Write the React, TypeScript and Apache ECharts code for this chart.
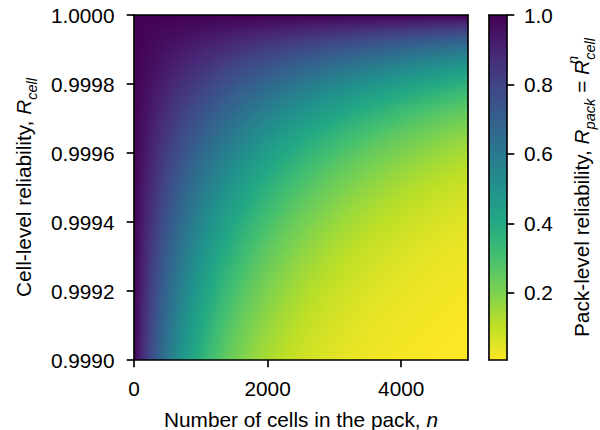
import React, { useEffect, useRef } from "react";
import * as echarts from "echarts";

// Axis ranges of the map (number of cells n, cell reliability R_cell)
const nRange = [0, 5000];
const rRange = [0.999, 1.0];
const nColumns = 334; // columns of the map (one per pixel of the plot width)
const rStops = 80; // colour samples along R in each column

const xTicks = [0, 2000, 4000];
const yTicks = [0.999, 0.9992, 0.9994, 0.9996, 0.9998, 1.0];
const cbTicks = [0.2, 0.4, 0.6, 0.8, 1.0];

// viridis (0 -> 1); the map uses it reversed
const viridis = [
  "#440154", "#482475", "#414487", "#355f8d", "#2a788e", "#21918c",
  "#22a884", "#44bf70", "#7ad151", "#bddf26", "#fde725",
];
const palette = viridis.slice().reverse(); // low value -> yellow, 1.0 -> purple

const FONT = "Liberation Sans";
const FS = 20.8;
const SFS = 14.6;
const LH = 32;

// R_pack = R_cell ^ n  (the quantity named on the colour bar)
// each column item: [n0, n1, rMin, rMax, v(R at stop 0 = rMin) ... v(R at stop K = rMax)]
const columns: number[][] = [];
for (let i = 0; i < nColumns; i++) {
  const n0 = nRange[0] + ((nRange[1] - nRange[0]) * i) / nColumns;
  const n1 = nRange[0] + ((nRange[1] - nRange[0]) * (i + 1)) / nColumns;
  const nc = (n0 + n1) / 2;
  const item = [n0, n1, rRange[0], rRange[1]];
  for (let k = 0; k <= rStops; k++) {
    const r = rRange[0] + ((rRange[1] - rRange[0]) * k) / rStops;
    item.push(Math.pow(r, nc));
  }
  columns.push(item);
}
const vMin = Math.pow(rRange[0], nRange[1]);
const vMax = 1;
const colorbarItems = [[0, 1, vMin, vMax]];

const hexToRgb = (h: string) => [1, 3, 5].map((o) => parseInt(h.slice(o, o + 2), 16));
const lerpColor = (t: number) => {
  const c = (echarts as any).color;
  if (c && typeof c.lerp === "function") return c.lerp(Math.min(1, Math.max(0, t)), palette);
  const x = Math.min(1, Math.max(0, t)) * (palette.length - 1);
  const a = Math.floor(x);
  const b = Math.min(palette.length - 1, a + 1);
  const f = x - a;
  const ca = hexToRgb(palette[a]);
  const cb = hexToRgb(palette[b]);
  return `rgb(${ca.map((v, idx) => Math.round(v + (cb[idx] - v) * f)).join(",")})`;
};
const colorOf = (v: number) => lerpColor((v - vMin) / (vMax - vMin));

const line = { color: "#000", width: 1.67 };
const labelStyle = { fontSize: FS, color: "#000", fontFamily: FONT };
const rich = {
  i: { fontSize: FS, fontStyle: "italic", fontFamily: FONT, color: "#000", lineHeight: LH },
  t: { fontSize: FS, fontFamily: FONT, color: "#000", lineHeight: LH },
  sub: { fontSize: SFS, fontStyle: "italic", fontFamily: FONT, color: "#000", verticalAlign: "bottom", lineHeight: LH - 14.4 },
  sup: { fontSize: SFS, fontStyle: "italic", fontFamily: FONT, color: "#000", verticalAlign: "top", lineHeight: LH - 26.8, width: 0 },
};
const nameStyle = { ...labelStyle, lineHeight: LH, rich };

const frameAxis = (gridIndex: number, position: string, min: number, max: number) => ({
  gridIndex,
  type: "value",
  position,
  min,
  max,
  z: 10,
  axisLine: { show: true, onZero: false, lineStyle: line },
  axisTick: { show: false },
  axisLabel: { show: false },
  splitLine: { show: false },
});

const renderColumn = (params: any, api: any) => {
  const p0 = api.coord([api.value(0), api.value(3)]);
  const p1 = api.coord([api.value(1), api.value(2)]);
  const x0 = Math.round(p0[0]);
  const x1 = Math.round(p1[0]);
  const y0 = Math.round(p0[1]);
  const y1 = Math.round(p1[1]);
  const colorStops = [];
  for (let k = rStops; k >= 0; k--) {
    // offset 0 = top (R = rMax), offset 1 = bottom (R = rMin)
    colorStops.push({ offset: 1 - k / rStops, color: colorOf(api.value(4 + k)) });
  }
  return {
    type: "rect",
    shape: { x: x0, y: y0, width: x1 - x0, height: y1 - y0 },
    style: { fill: { type: "linear", x: 0, y: 0, x2: 0, y2: 1, colorStops } },
  };
};

const renderColorbar = (params: any, api: any) => {
  const p0 = api.coord([api.value(0), api.value(3)]);
  const p1 = api.coord([api.value(1), api.value(2)]);
  const colorStops = palette
    .map((c, idx) => ({ offset: 1 - idx / (palette.length - 1), color: c }))
    .reverse();
  return {
    type: "rect",
    shape: { x: p0[0], y: p0[1], width: p1[0] - p0[0], height: p1[1] - p0[1] },
    style: { fill: { type: "linear", x: 0, y: 0, x2: 0, y2: 1, colorStops } },
  };
};

export default function App() {
  const ref = useRef<HTMLDivElement>(null);
  useEffect(() => {
    document.body.style.margin = "0";
    const chart = echarts.init(ref.current!, null, { renderer: "svg" });
    chart.setOption({
      animation: false,
      grid: [
        { left: 134, top: 15, width: 334, height: 345, outerBoundsMode: "none", containLabel: false },
        { left: 489, top: 15, width: 18, height: 345, outerBoundsMode: "none", containLabel: false },
      ],
      xAxis: [
        {
          gridIndex: 0,
          type: "value",
          position: "bottom",
          min: nRange[0],
          max: nRange[1],
          z: 10,
          axisLine: { show: true, onZero: false, lineStyle: line },
          axisTick: { show: true, length: 7.3, lineStyle: line, customValues: xTicks },
          axisLabel: { ...labelStyle, margin: 17.5, customValues: xTicks, formatter: (v: number) => String(v) },
          splitLine: { show: false },
          name: "Number of cells in the pack, {i|n}",
          nameLocation: "middle",
          nameGap: 40.5,
          nameTextStyle: nameStyle,
        },
        frameAxis(0, "top", nRange[0], nRange[1]),
        frameAxis(1, "bottom", 0, 1),
        frameAxis(1, "top", 0, 1),
      ],
      yAxis: [
        {
          gridIndex: 0,
          type: "value",
          position: "left",
          min: rRange[0],
          max: rRange[1],
          z: 10,
          axisLine: { show: true, onZero: false, lineStyle: line },
          axisTick: { show: true, length: 7.3, lineStyle: line, customValues: yTicks },
          axisLabel: { ...labelStyle, margin: 19.5, customValues: yTicks, formatter: (v: number) => v.toFixed(4) },
          splitLine: { show: false },
          name: "Cell-level reliability, {i|R}{sub|cell}",
          nameLocation: "middle",
          nameGap: 93,
          nameTextStyle: nameStyle,
        },
        frameAxis(0, "right", rRange[0], rRange[1]),
        {
          gridIndex: 1,
          type: "value",
          position: "right",
          min: vMin,
          max: vMax,
          z: 10,
          axisLine: { show: true, onZero: false, lineStyle: line },
          axisTick: { show: true, length: 7.3, lineStyle: line, customValues: cbTicks },
          axisLabel: { ...labelStyle, margin: 17, customValues: cbTicks, formatter: (v: number) => v.toFixed(1) },
          splitLine: { show: false },
          name: "Pack-level reliability, {i|R}{sub|pack}{t| = }{i|R}{sup|n}{sub|cell}",
          nameLocation: "middle",
          nameGap: 58,
          nameRotate: 90,
          nameTextStyle: nameStyle,
        },
        frameAxis(1, "left", vMin, vMax),
      ],
      series: [
        {
          type: "custom",
          xAxisIndex: 0,
          yAxisIndex: 0,
          renderItem: renderColumn,
          encode: { x: [0, 1], y: [2, 3] },
          data: columns,
          silent: true,
          progressive: 0,
          z: 2,
        },
        {
          type: "custom",
          xAxisIndex: 2,
          yAxisIndex: 2,
          renderItem: renderColorbar,
          encode: { x: [0, 1], y: [2, 3] },
          data: colorbarItems,
          silent: true,
          progressive: 0,
          z: 2,
        },
      ],
    });
    return () => chart.dispose();
  }, []);
  return <div ref={ref} style={{ width: 600, height: 430 }} />;
}
